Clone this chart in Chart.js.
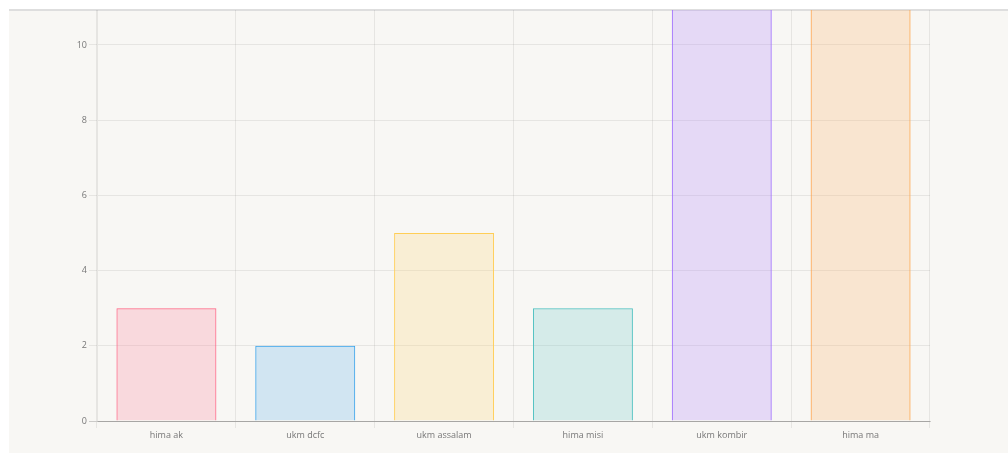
<!DOCTYPE html>
<html>
<head>
<meta charset="utf-8">
<script src="https://cdn.jsdelivr.net/npm/chart.js@4.4.0/dist/chart.umd.min.js"></script>
<style>
  html, body { margin: 0; padding: 0; background: #ffffff; overflow: hidden; }
  #frame { position: absolute; left: 9px; top: 9px; width: 999px; height: 444px;
           background: #f8f7f4; border-top: 2px solid #dedede; box-sizing: border-box; }
  #wrap { position: absolute; left: 0; top: 0; width: 1008px; height: 453px; }
</style>
</head>
<body>
<div id="frame"></div>
<div id="wrap"><canvas id="c" width="1008" height="453"></canvas></div>
<script>
const categories = ["hima ak", "ukm dcfc", "ukm assalam", "hima misi", "ukm kombir", "hima ma"];
const values = [3, 2, 5, 3, 12, 12];
const yTickValues = [0, 2, 4, 6, 8, 10];

const fills = ["rgba(255,99,132,0.2)", "rgba(54,162,235,0.2)", "rgba(255,206,86,0.2)",
               "rgba(75,192,192,0.2)", "rgba(153,102,255,0.2)", "rgba(255,159,64,0.2)"];
const borders = ["rgba(255,99,132,1)", "rgba(54,162,235,1)", "rgba(255,206,86,1)",
                 "rgba(75,192,192,1)", "rgba(153,102,255,1)", "rgba(255,159,64,1)"];

new Chart(document.getElementById("c"), {
  type: "bar",
  data: {
    labels: categories,
    datasets: [{
      data: values,
      backgroundColor: fills,
      borderColor: borders,
      borderWidth: 1
    }]
  },
  options: {
    responsive: false,
    animation: false,
    layout: { padding: { left: 0, right: 78, top: 10, bottom: 0 } },
    plugins: { legend: { display: false }, tooltip: { enabled: false } },
    scales: {
      x: {
        grid: { color: "rgba(0,0,0,0.07)", tickLength: 7 },
        border: { color: "rgba(0,0,0,0.18)" },
        ticks: { color: "#777", font: { family: "Open Sans", size: 9 }, padding: 2 },
        afterFit: s => { s.height = 32; }
      },
      y: {
        min: 0,
        max: 10.93,
        grid: { color: ctx => ctx.tick && ctx.tick.value === 0 ? "rgba(0,0,0,0.18)" : "rgba(0,0,0,0.07)", tickLength: 8 },
        border: { color: "rgba(0,0,0,0.07)" },
        ticks: { stepSize: 2, color: "#777", font: { family: "Open Sans", size: 9 }, padding: 2 },
        afterBuildTicks: s => { s.ticks = yTickValues.map(v => ({ value: v })); },
        afterFit: s => { s.width = 97; }
      }
    }
  }
});
</script>
</body>
</html>
